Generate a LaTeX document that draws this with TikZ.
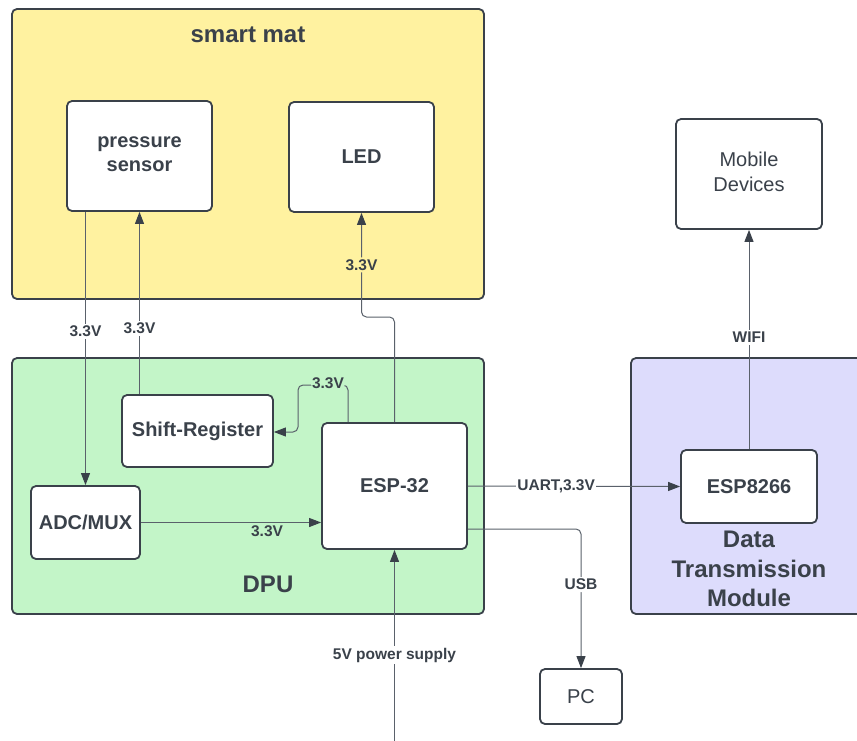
\documentclass[tikz,border=0pt]{standalone}
\usepackage{fontspec}
\setmainfont{Liberation Sans}
\usetikzlibrary{arrows.meta,calc}
\definecolor{txt}{HTML}{3A414A}
\definecolor{ln}{HTML}{5A616B}
\definecolor{yel}{HTML}{FFF2A0}
\definecolor{grn}{HTML}{C3F5C8}
\definecolor{pur}{HTML}{DDDCFC}
\tikzset{
  container/.style={draw=txt, line width=1.8pt, rounded corners=5pt},
  blk/.style={draw=txt, fill=white, line width=1.8pt, rounded corners=5pt, text=txt,
    font=\fontsize{20}{24}\selectfont\bfseries, align=center, inner sep=0pt},
  plainblk/.style={blk, font=\fontsize{20}{25}\selectfont},
  title/.style={text=txt, font=\fontsize{24}{29.5}\selectfont\bfseries, align=center, inner sep=0pt},
  conn/.style={draw=ln, line width=1pt, -{Triangle[length=12pt,width=9pt,color=txt]}},
  lab/.style={text=txt, font=\fontsize{15.5}{18}\selectfont\bfseries, inner sep=2pt, fill=white},
}
\begin{document}
\begin{tikzpicture}[x=1pt,y=-1pt]
\clip (0,0) rectangle (857,741);
\fill[white] (0,0) rectangle (857,741);
% containers
\draw[container, fill=yel] (12,9) rectangle (484,299);
\draw[container, fill=grn] (12,358) rectangle (484,614);
\draw[container, fill=pur] (631,358) rectangle (880,614);
\node[title] (tmat) at (248,35) {smart mat};
\node[title] (tdpu) at (268,584) {DPU};
\node[title] (tdtm) at (749,569) {Data\\Transmission\\Module};
% blocks
\node[blk, minimum width=145pt, minimum height=110pt] (ps) at (139.5,156) {pressure\\sensor\vphantom{p}};
\node[blk, minimum width=145pt, minimum height=110pt] (led) at (361.5,157) {LED};
\node[blk, minimum width=151pt, minimum height=72pt] (sr) at (197.5,431) {Shift-Register};
\node[blk, minimum width=109pt, minimum height=73pt] (adc) at (85.5,522.5) {ADC/MUX};
\node[blk, minimum width=145pt, minimum height=126pt] (esp) at (394.5,486) {ESP-32};
\node[blk, minimum width=136pt, minimum height=73pt] (e8266) at (749,486.5) {ESP8266};
\node[plainblk, minimum width=146pt, minimum height=110pt] (mob) at (749,174) {Mobile\\Devices\vphantom{p}};
\node[plainblk, minimum width=82pt, minimum height=55pt] (pc) at (581,696.5) {PC};
\coordinate (pw) at (394.5,745);
% connectors
\draw[conn] (adc.north |- ps.south) -- node[lab, pos=0.436] {3.3V} (adc.north);
\draw[conn] (ps.south |- sr.north) -- node[lab, pos=0.36] {3.3V} (ps.south);
\draw[conn, rounded corners=5pt] ([xshift=-46.5pt]esp.north) -- (348,385) -- node[lab, fill=grn, pos=0.4, inner sep=1pt, yshift=2pt] {3.3V} (298,385) -- (298,432) -- (sr.east |- 298,432);
\draw[conn, rounded corners=5pt] (esp.north) -- (394.5,317) -- (361.5,317) -- node[lab, fill=yel, pos=0.5] {3.3V} (led.south);
\draw[conn] (adc.east) -- node[lab, fill=none, below, pos=0.70, yshift=-1pt] {3.3V} (esp.west |- adc.east);
\draw[conn] (esp.east) -- node[lab, pos=0.416, inner sep=1pt] {UART,3.3V} (e8266.west);
\draw[conn, rounded corners=5pt] ([yshift=-43pt]esp.east) -| node[lab, pos=0.70] {USB} (pc.north);
\draw[conn] (pw) -- node[lab, pos=0.46] {5V power supply} (esp.south);
\draw[conn] (e8266.north) -- node[lab, pos=0.51] {WIFI} (mob.south);
\end{tikzpicture}
\end{document}
